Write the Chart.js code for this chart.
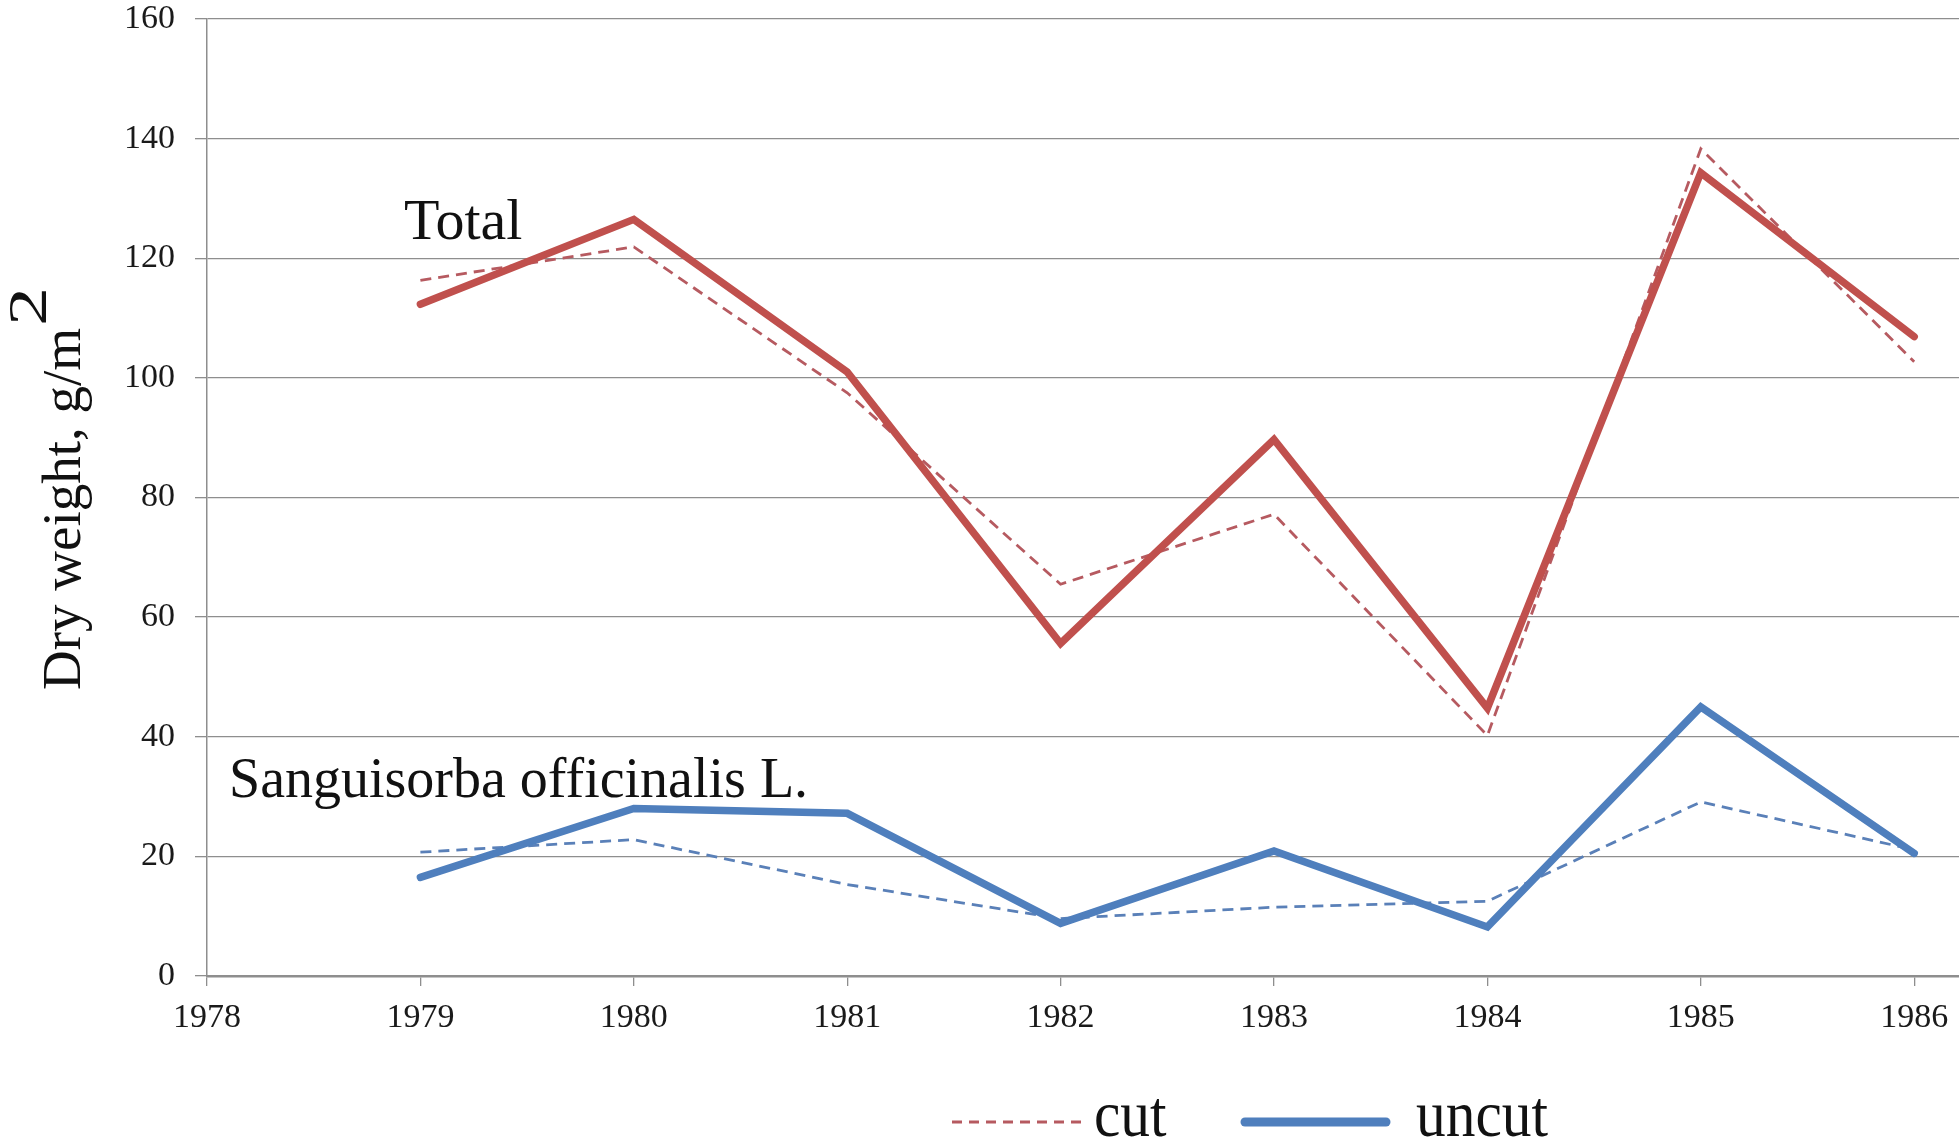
<!DOCTYPE html>
<html>
<head>
<meta charset="utf-8">
<script src="https://cdn.jsdelivr.net/npm/chart.js@4/dist/chart.umd.min.js"></script>
<style>
  html, body { margin: 0; padding: 0; background: #ffffff; overflow: hidden; }
  #c { display: block; }
</style>
</head>
<body>
<canvas id="c" width="1959" height="1140"></canvas>
<script>
// Years of observation
const years = [1979, 1980, 1981, 1982, 1983, 1984, 1985, 1986];

// Dry weight, g/m2 — whole stand
const totalCut   = [116.3, 121.9, 97.5, 65.5, 77.2, 40.2, 138.3, 102.7];
const totalUncut = [112.3, 126.5, 101.0, 55.6, 89.7, 44.8, 134.3, 106.9];

// Dry weight, g/m2 — Sanguisorba officinalis L.
const sangCut    = [20.7, 22.8, 15.3, 9.6, 11.5, 12.5, 29.1, 21.1];
const sangUncut  = [16.5, 28.0, 27.2, 8.8, 20.9, 8.2, 45.0, 20.5];

// Axis tick values
const xTicks = [1978, 1979, 1980, 1981, 1982, 1983, 1984, 1985, 1986];
const yTicks = [0, 20, 40, 60, 80, 100, 120, 140, 160];

const RED = '#c0504d';
const RED_DASH = '#b65a60';
const BLUE = '#4f7fbd';
const BLUE_DASH = '#5a80b8';
const GRID = '#8e8e8e';
const SERIF = '"Liberation Serif", "Times New Roman", serif';

const toPoints = vals => years.map((yr, i) => ({ x: yr, y: vals[i] }));

const solid = (label, vals, color) => ({
  label, data: toPoints(vals), borderColor: color, backgroundColor: color,
  borderWidth: 7.5, pointRadius: 0, tension: 0,
  borderJoinStyle: 'miter', borderCapStyle: 'round', fill: false
});
const dashed = (label, vals, color) => ({
  label, data: toPoints(vals), borderColor: color, backgroundColor: color,
  borderWidth: 2.8, borderDash: [11, 7], pointRadius: 0, tension: 0,
  borderJoinStyle: 'miter', fill: false
});

// Captions, rotated axis title and the two-entry legend
const captions = {
  id: 'captions',
  afterDraw(chart) {
    const ctx = chart.ctx;
    ctx.save();
    ctx.fillStyle = '#111111';
    ctx.textAlign = 'left';
    ctx.textBaseline = 'alphabetic';

    ctx.font = '58px ' + SERIF;
    ctx.fillText('Total', 404, 239);

    ctx.font = '56px ' + SERIF;
    ctx.fillText('Sanguisorba officinalis L.', 229, 797);

    // y axis title: Dry weight, g/m²
    ctx.save();
    ctx.translate(80, 690);
    ctx.rotate(-Math.PI / 2);
    ctx.font = '54px ' + SERIF;
    const main = 'Dry weight, g/m';
    const w = ctx.measureText(main).width;
    ctx.save();
    ctx.scale(362 / w, 1);
    ctx.fillText(main, 0, 0);
    ctx.restore();
    ctx.save();
    ctx.translate(364, -34);
    ctx.scale(1.45, 1);
    ctx.fillText('2', 0, 0);
    ctx.restore();
    ctx.restore();

    // legend
    ctx.save();
    ctx.strokeStyle = RED_DASH;
    ctx.lineWidth = 3;
    ctx.setLineDash([10, 7]);
    ctx.beginPath();
    ctx.moveTo(952, 1122);
    ctx.lineTo(1084, 1122);
    ctx.stroke();
    ctx.restore();

    ctx.save();
    ctx.strokeStyle = BLUE;
    ctx.lineWidth = 9;
    ctx.lineCap = 'round';
    ctx.beginPath();
    ctx.moveTo(1245, 1122);
    ctx.lineTo(1386, 1122);
    ctx.stroke();
    ctx.restore();

    ctx.font = '66px ' + SERIF;
    ctx.save();
    ctx.translate(1094, 1136);
    ctx.scale(0.9, 1);
    ctx.fillText('cut', 0, 0);
    ctx.restore();
    ctx.save();
    ctx.translate(1416, 1136);
    ctx.scale(0.9, 1);
    ctx.fillText('uncut', 0, 0);
    ctx.restore();

    ctx.restore();
  }
};

const whiteBg = {
  id: 'whiteBg',
  beforeDraw(chart) {
    const ctx = chart.ctx;
    ctx.save();
    ctx.fillStyle = '#ffffff';
    ctx.fillRect(0, 0, chart.width, chart.height);
    ctx.restore();
  }
};

new Chart(document.getElementById('c'), {
  type: 'line',
  data: {
    datasets: [
      solid('Total, uncut', totalUncut, RED),
      solid('Sanguisorba officinalis L., uncut', sangUncut, BLUE),
      dashed('Total, cut', totalCut, RED_DASH),
      dashed('Sanguisorba officinalis L., cut', sangCut, BLUE_DASH)
    ]
  },
  options: {
    responsive: false,
    animation: false,
    devicePixelRatio: 1,
    layout: { padding: { top: 19, right: 0, bottom: 0, left: 0 } },
    plugins: { legend: { display: false }, tooltip: { enabled: false } },
    scales: {
      x: {
        type: 'linear',
        min: 1978,
        max: 1986.21,
        afterBuildTicks: s => { s.ticks = xTicks.map(v => ({ value: v })); },
        afterFit: s => { s.height = 164; s.paddingLeft = 0; s.paddingRight = 0; },
        ticks: {
          includeBounds: false,
          autoSkip: false,
          maxRotation: 0,
          padding: 12,
          color: '#1a1a1a',
          font: { family: SERIF, size: 34 },
          callback: v => String(v)
        },
        grid: { drawOnChartArea: false, drawTicks: true, tickLength: 10, color: GRID, tickColor: GRID, lineWidth: 1.3 },
        border: { display: true, color: GRID, width: 2.5 }
      },
      y: {
        type: 'linear',
        min: 0,
        max: 160,
        afterBuildTicks: s => { s.ticks = yTicks.map(v => ({ value: v })); },
        afterFit: s => { s.width = 207; s.paddingTop = 0; s.paddingBottom = 0; },
        ticks: {
          padding: 20,
          color: '#1a1a1a',
          font: { family: SERIF, size: 34 },
          callback: v => String(v)
        },
        grid: { color: GRID, tickColor: GRID, lineWidth: 1.3, tickLength: 12, drawTicks: true },
        border: { display: true, color: GRID, width: 1.5 }
      }
    }
  },
  plugins: [whiteBg, captions]
});
</script>
</body>
</html>
